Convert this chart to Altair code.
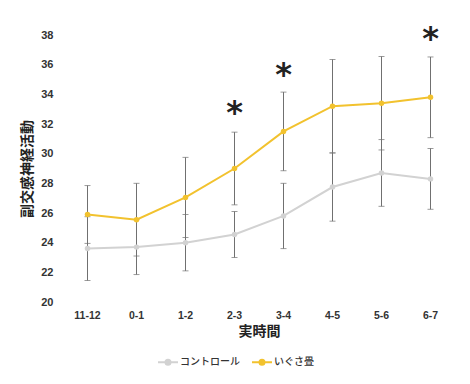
import altair as alt
import pandas as pd

times = ["11-12", "0-1", "1-2", "2-3", "3-4", "4-5", "5-6", "6-7"]
groups = ["コントロール", "いぐさ畳"]
control_mean = [23.6, 23.7, 24.0, 24.55, 25.8, 27.75, 28.7, 28.3]
control_sd = [2.15, 1.85, 1.9, 1.55, 2.2, 2.3, 2.25, 2.05]
igusa_mean = [25.9, 25.55, 27.05, 29.0, 31.5, 33.2, 33.4, 33.8]
igusa_sd = [1.95, 2.45, 2.7, 2.45, 2.65, 3.15, 3.15, 2.72]
star_times = ["2-3", "3-4", "6-7"]
star_y = [33.0, 35.6, 38.0]

rows = []
for t, m, s in zip(times, control_mean, control_sd):
    rows.append({"time": t, "group": groups[0], "mean": m, "lo": m - s, "hi": m + s})
for t, m, s in zip(times, igusa_mean, igusa_sd):
    rows.append({"time": t, "group": groups[1], "mean": m, "lo": m - s, "hi": m + s})
df = pd.DataFrame(rows)
stars = pd.DataFrame({"time": star_times, "y": star_y, "label": ["*"] * len(star_times)})

jp = "Noto Sans CJK JP"
yvals = list(range(20, 40, 2))
xaxis = alt.Axis(title="実時間", labelAngle=0, domain=False, ticks=False,
                 labelPadding=8, titlePadding=4, labelFontSize=10.5,
                 labelFontWeight="bold", labelColor="#333",
                 titleFontSize=14, titleFontWeight="bold", titleColor="#222",
                 titleFont=jp, labelFont="Liberation Sans")
yaxis = alt.Axis(title="副交感神経活動", values=yvals, grid=False,
                 domain=False, ticks=False, labelPadding=10, titlePadding=6,
                 labelOverlap=False,
                 labelFontSize=11, labelFontWeight="bold", labelColor="#333",
                 titleFontSize=14, titleFontWeight="bold", titleColor="#222",
                 titleFont=jp, labelFont="Liberation Sans")
yscale = alt.Scale(domain=[20, 38], nice=False, zero=False)
colors = alt.Scale(domain=groups, range=["#d2d2d2", "#f2c22e"])

bars = alt.Chart(df).mark_errorbar(ticks=alt.MarkConfig(size=6), color="#707070", thickness=1).encode(
    x=alt.X("time:N", sort=times, axis=xaxis),
    y=alt.Y("lo:Q", scale=yscale, axis=yaxis),
    y2="hi:Q",
    detail="group:N",
)

lines = alt.Chart(df).mark_line(strokeWidth=2, point=alt.OverlayMarkDef(size=30, filled=True)).encode(
    x=alt.X("time:N", sort=times, axis=xaxis),
    y=alt.Y("mean:Q", scale=yscale, axis=yaxis),
    color=alt.Color("group:N", scale=colors, sort=groups,
                    legend=alt.Legend(title=None, orient="none", direction="horizontal",
                                      legendX=94, legendY=316, labelFont=jp, labelFontSize=10,
                                      labelFontWeight=500,
                                      labelColor="#333", symbolType="M-1,0L1,0M-0.25,0a0.25,0.25 0 1,0 0.5,0a0.25,0.25 0 1,0 -0.5,0",
                                      symbolSize=400, symbolStrokeWidth=2, columnPadding=8,
                                      labelOffset=1)),
)

star_text = alt.Chart(stars).mark_text(fontSize=32, fontWeight="bold", color="#222",
                                        font="DejaVu Sans", baseline="middle", dy=4).encode(
    x=alt.X("time:N", sort=times, axis=xaxis),
    y=alt.Y("y:Q", scale=yscale, axis=yaxis),
    text="label:N",
)

chart = alt.layer(bars, lines, star_text).properties(
    width=392, height=267, background="white",
    padding={"top": 15, "left": 12, "right": 5, "bottom": 5},
).configure_view(stroke=None).configure_axis(labelOverlap=False)

chart.save("out.html", embed_options={"renderer": "svg", "actions": False})
